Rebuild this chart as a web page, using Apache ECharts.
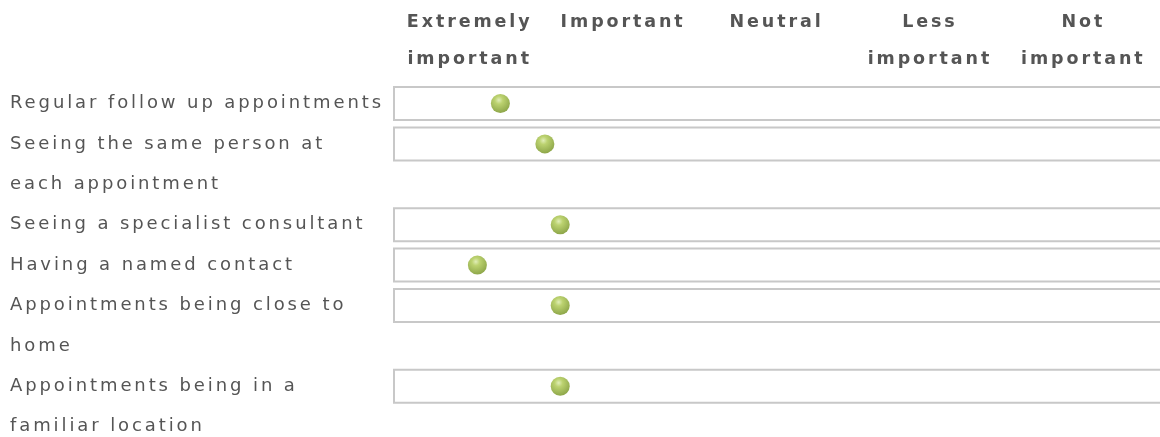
<!DOCTYPE html>
<html>
<head>
<meta charset="utf-8">
<script src="https://cdn.jsdelivr.net/npm/echarts@6/dist/echarts.min.js"></script>
<style>
html,body{margin:0;padding:0;background:#fff;}
#chart{width:1160px;height:437px;}
</style>
</head>
<body>
<div id="chart"></div>
<script>
const categories = [
  "Regular follow up appointments",
  "Seeing the same person at\neach appointment",
  "Seeing a specialist consultant",
  "Having a named contact",
  "Appointments being close to\nhome",
  "Appointments being in a\nfamiliar location"
];
const scores = [1.20, 1.49, 1.59, 1.05, 1.59, 1.59];
const scaleLabels = ["Extremely\nimportant", "Important", "Neutral", "Less\nimportant", "Not\nimportant"];

// line start of each row, derived from the number of text lines in each label
const lineStart = [];
let acc = 0;
categories.forEach(c => { lineStart.push(acc); acc += c.split("\n").length; });
const totalLines = acc;

const FONT = "'DejaVu Sans', Verdana, sans-serif";
const LINE_H = 40.4;
const Y_MAX = totalLines - 0.5;
const chart = echarts.init(document.getElementById('chart'));
const option = {
  animation: false,
  backgroundColor: '#ffffff',
  grid: { left: 393, right: -6, top: 83.3, height: Y_MAX * LINE_H },
  xAxis: [
    {
      type: 'category', data: scaleLabels, position: 'top', boundaryGap: true,
      axisLine: { show: false }, axisTick: { show: false }, splitLine: { show: false },
      axisLabel: {
        interval: 0, fontFamily: FONT, fontWeight: 'bold', fontSize: 17.5,
        color: '#555', lineHeight: 37, verticalAlign: 'top', margin: 79, align: 'center'
      }
    },
    { type: 'value', min: 0.5, max: 5.5, show: false }
  ],
  yAxis: { type: 'value', inverse: true, min: 0, max: Y_MAX, show: false },
  series: [
    {
      type: 'custom', xAxisIndex: 1, z: 1, clip: false,
      encode: { x: 0, y: 1 },
      data: categories.map((c, i) => [0.5, lineStart[i] + 0.5, i]),
      renderItem: function (params, api) {
        const i = api.value(2);
        const p = api.coord([0.5, api.value(1)]);
        const lh = api.size([0, 1])[1];
        return {
          type: 'group',
          children: [
            {
              type: 'rect',
              shape: { x: p[0] + 1, y: p[1] - 16.5, width: 820, height: 33 },
              style: { fill: '#ffffff', stroke: '#c8c8c8', lineWidth: 2 }
            },
            {
              type: 'text',
              x: 10, y: p[1] - lh / 2,
              style: {
                text: categories[i], fontFamily: FONT, fontSize: 18,
                fill: '#555', lineHeight: lh, verticalAlign: 'top', align: 'left'
              }
            }
          ]
        };
      }
    },
    {
      type: 'scatter', xAxisIndex: 1, z: 3,
      symbol: 'circle', symbolSize: 19,
      data: scores.map((s, i) => [s, lineStart[i] + 0.5]),
      itemStyle: {
        color: {
          type: 'radial', x: 0.42, y: 0.32, r: 0.7,
          colorStops: [
            { offset: 0, color: '#d9e9a6' },
            { offset: 0.3, color: '#abc74c' },
            { offset: 1, color: '#6f8e1a' }
          ]
        }
      }
    }
  ]
};
chart.setOption(option);
// the reference text is set with wide tracking: apply it to the drawing context and repaint
let tracked = false;
document.querySelectorAll('#chart canvas').forEach(cv => {
  const ctx = cv.getContext('2d');
  if ('letterSpacing' in ctx) { ctx.letterSpacing = '2.9px'; tracked = true; }
});
if (tracked) {
  chart.setOption(option, true);
}
</script>
</body>
</html>
